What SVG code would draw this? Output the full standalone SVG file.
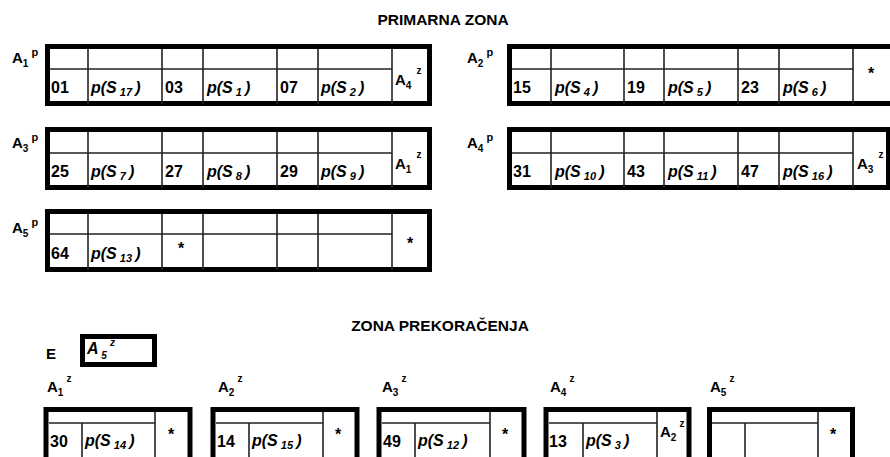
<svg xmlns="http://www.w3.org/2000/svg" width="890" height="457" viewBox="0 0 890 457">
<style>
text{font-family:"Liberation Sans",Arial,sans-serif;font-weight:bold;fill:#000}
.t{font-size:15.5px}
.c{font-size:16px}
.it{font-size:16px;font-style:italic}
.lb{font-size:15px}
.sb{font-size:10px}
.sp{font-size:11px}
.box{fill:#fff;stroke:#000;stroke-width:5}
.ln{stroke:#222;stroke-width:1.6;fill:none}
</style>
<rect width="890" height="457" fill="#fff"/>
<text class="t" x="443" y="25" text-anchor="middle">PRIMARNA ZONA</text>
<text class="t" x="440" y="331" text-anchor="middle">ZONA PREKORAČENJA</text>

<g id="labels-primary">
<text class="lb" x="12" y="63">A<tspan class="sb" dy="4">1</tspan><tspan class="sp" dx="3" dy="-11">p</tspan></text>
<text class="lb" x="467" y="63">A<tspan class="sb" dy="4">2</tspan><tspan class="sp" dx="3" dy="-11">p</tspan></text>
<text class="lb" x="12" y="148">A<tspan class="sb" dy="4">3</tspan><tspan class="sp" dx="3" dy="-11">p</tspan></text>
<text class="lb" x="467" y="148">A<tspan class="sb" dy="4">4</tspan><tspan class="sp" dx="3" dy="-11">p</tspan></text>
<text class="lb" x="12" y="233">A<tspan class="sb" dy="4">5</tspan><tspan class="sp" dx="3" dy="-11">p</tspan></text>
</g>

<g id="A1p">
<rect class="box" x="47.5" y="46.5" width="382" height="57"/>
<path class="ln" d="M50 69H392M88 49V104M162 49V104M203 49V104M277 49V104M318 49V104M392 49V104"/>
<text class="c" x="51" y="93">01</text>
<text class="it" x="91" y="93">p(S<tspan font-size="11" dy="3"> 17 </tspan><tspan dy="-3">)</tspan></text>
<text class="c" x="165" y="93">03</text>
<text class="it" x="207" y="93">p(S<tspan font-size="11" dy="3"> 1 </tspan><tspan dy="-3">)</tspan></text>
<text class="c" x="280" y="93">07</text>
<text class="it" x="321" y="93">p(S<tspan font-size="11" dy="3"> 2 </tspan><tspan dy="-3">)</tspan></text>
<text class="lb" x="395" y="85">A<tspan class="sb" dy="4">4</tspan><tspan class="sb" dx="5" dy="-15">z</tspan></text>
</g>

<g id="A2p">
<rect class="box" x="509.5" y="46.5" width="386" height="57"/>
<path class="ln" d="M512 69H853M551 49V104M624 49V104M664 49V104M738 49V104M779 49V104M853 49V104"/>
<text class="c" x="513" y="93">15</text>
<text class="it" x="555" y="93">p(S<tspan font-size="11" dy="3"> 4 </tspan><tspan dy="-3">)</tspan></text>
<text class="c" x="627" y="93">19</text>
<text class="it" x="668" y="93">p(S<tspan font-size="11" dy="3"> 5 </tspan><tspan dy="-3">)</tspan></text>
<text class="c" x="741" y="93">23</text>
<text class="it" x="783" y="93">p(S<tspan font-size="11" dy="3"> 6 </tspan><tspan dy="-3">)</tspan></text>
<text class="c" x="868" y="79">*</text>
</g>

<g id="A3p">
<rect class="box" x="47.5" y="129.5" width="382" height="58"/>
<path class="ln" d="M50 153H392M88 132V188M162 132V188M203 132V188M277 132V188M318 132V188M392 132V188"/>
<text class="c" x="51" y="177">25</text>
<text class="it" x="91" y="177">p(S<tspan font-size="11" dy="3"> 7 </tspan><tspan dy="-3">)</tspan></text>
<text class="c" x="165" y="177">27</text>
<text class="it" x="207" y="177">p(S<tspan font-size="11" dy="3"> 8 </tspan><tspan dy="-3">)</tspan></text>
<text class="c" x="280" y="177">29</text>
<text class="it" x="321" y="177">p(S<tspan font-size="11" dy="3"> 9 </tspan><tspan dy="-3">)</tspan></text>
<text class="lb" x="395" y="169">A<tspan class="sb" dy="4">1</tspan><tspan class="sb" dx="5" dy="-15">z</tspan></text>
</g>

<g id="A4p">
<rect class="box" x="509.5" y="129.5" width="379" height="58"/>
<path class="ln" d="M512 153H853M551 132V188M624 132V188M664 132V188M738 132V188M779 132V188M853 132V188"/>
<text class="c" x="513" y="177">31</text>
<text class="it" x="555" y="177">p(S<tspan font-size="11" dy="3"> 10 </tspan><tspan dy="-3">)</tspan></text>
<text class="c" x="627" y="177">43</text>
<text class="it" x="668" y="177">p(S<tspan font-size="11" dy="3"> 11 </tspan><tspan dy="-3">)</tspan></text>
<text class="c" x="741" y="177">47</text>
<text class="it" x="783" y="177">p(S<tspan font-size="11" dy="3"> 16 </tspan><tspan dy="-3">)</tspan></text>
<text class="lb" x="857" y="169">A<tspan class="sb" dy="4">3</tspan><tspan class="sb" dx="5" dy="-15">z</tspan></text>
</g>

<g id="A5p">
<rect class="box" x="47.5" y="211.5" width="382" height="58"/>
<path class="ln" d="M50 234H392M88 214V270M162 214V270M203 214V270M277 214V270M318 214V270M392 214V270"/>
<text class="c" x="51" y="259">64</text>
<text class="it" x="91" y="259">p(S<tspan font-size="11" dy="3"> 13 </tspan><tspan dy="-3">)</tspan></text>
<text class="c" x="178" y="254">*</text>
<text class="c" x="407" y="249">*</text>
</g>

<g id="E">
<text class="lb" x="46" y="359">E</text>
<rect class="box" x="82.5" y="336.5" width="72" height="28"/>
<text class="it" x="87" y="354">A<tspan font-size="10" dy="5"> 5</tspan><tspan font-size="10" dx="3" dy="-13">z</tspan></text>
</g>

<g id="labels-overflow">
<text class="lb" x="47" y="392">A<tspan class="sb" dy="4">1</tspan><tspan class="sb" dx="3" dy="-14">z</tspan></text>
<text class="lb" x="218" y="392">A<tspan class="sb" dy="4">2</tspan><tspan class="sb" dx="3" dy="-14">z</tspan></text>
<text class="lb" x="382" y="392">A<tspan class="sb" dy="4">3</tspan><tspan class="sb" dx="3" dy="-14">z</tspan></text>
<text class="lb" x="550" y="392">A<tspan class="sb" dy="4">4</tspan><tspan class="sb" dx="3" dy="-14">z</tspan></text>
<text class="lb" x="710" y="392">A<tspan class="sb" dy="4">5</tspan><tspan class="sb" dx="3" dy="-14">z</tspan></text>
</g>

<g id="A1z">
<rect class="box" x="46" y="409.5" width="144" height="52"/>
<path class="ln" d="M49 423H155M82 423V460M155 412V460"/>
<text class="c" x="50" y="447">30</text>
<text class="it" x="85" y="446">p(S<tspan font-size="11" dy="3"> 14 </tspan><tspan dy="-3">)</tspan></text>
<text class="c" x="168" y="440">*</text>
</g>

<g id="A2z">
<rect class="box" x="213" y="409.5" width="144" height="52"/>
<path class="ln" d="M216 423H323M249 423V460M323 412V460"/>
<text class="c" x="217" y="447">14</text>
<text class="it" x="252" y="446">p(S<tspan font-size="11" dy="3"> 15 </tspan><tspan dy="-3">)</tspan></text>
<text class="c" x="335" y="440">*</text>
</g>

<g id="A3z">
<rect class="box" x="379" y="409.5" width="145" height="52"/>
<path class="ln" d="M382 423H490M415 423V460M490 412V460"/>
<text class="c" x="383" y="447">49</text>
<text class="it" x="418" y="446">p(S<tspan font-size="11" dy="3"> 12 </tspan><tspan dy="-3">)</tspan></text>
<text class="c" x="502" y="440">*</text>
</g>

<g id="A4z">
<rect class="box" x="546" y="409.5" width="143" height="52"/>
<path class="ln" d="M549 423H657M583 423V460M657 412V460"/>
<text class="c" x="549" y="447">13</text>
<text class="it" x="586" y="446">p(S<tspan font-size="11" dy="3"> 3 </tspan><tspan dy="-3">)</tspan></text>
<text class="lb" x="660" y="437">A<tspan class="sb" dy="4">2</tspan><tspan class="sb" dx="3" dy="-14">z</tspan></text>
</g>

<g id="A5z">
<rect class="box" x="709.5" y="409.5" width="143" height="52"/>
<path class="ln" d="M712 423H818M745 423V460M818 412V460"/>
<text class="c" x="830" y="440">*</text>
</g>

<g id="connectors"></g>
</svg>
